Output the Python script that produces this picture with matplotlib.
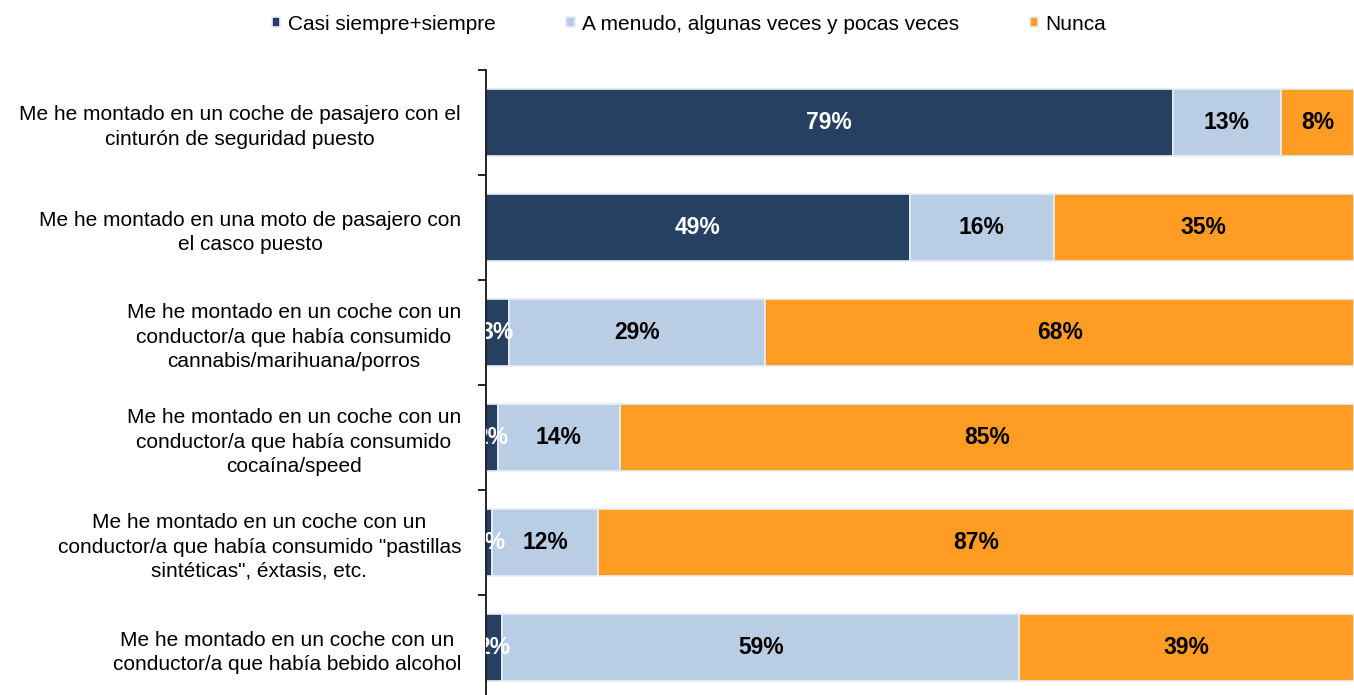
import matplotlib.pyplot as plt
import numpy as np

plt.rcParams['font.family'] = ['Liberation Sans', 'DejaVu Sans']

categories = [
    "Me he montado en un coche de pasajero con el\ncinturón de seguridad puesto",
    "Me he montado en una moto de pasajero con\nel casco puesto",
    "Me he montado en un coche con un\nconductor/a que había consumido\ncannabis/marihuana/porros",
    "Me he montado en un coche con un\nconductor/a que había consumido\ncocaína/speed",
    "Me he montado en un coche con un\nconductor/a que había consumido \"pastillas\nsintéticas\", éxtasis, etc.",
    "Me he montado en un coche con un\nconductor/a que había bebido alcohol",
]
series = ["Casi siempre+siempre", "A menudo, algunas veces y pocas veces", "Nunca"]

siempre = [79.1, 48.8, 2.6, 1.4, 0.7, 1.9]
a_menudo = [12.5, 16.6, 29.6, 14.0, 12.2, 59.5]
nunca = [8.4, 34.6, 67.8, 84.6, 87.1, 38.6]

lab_siempre = ["79%", "49%", "3%", "2%", "1%", "2%"]
lab_menudo = ["13%", "16%", "29%", "14%", "12%", "59%"]
lab_nunca = ["8%", "35%", "68%", "85%", "87%", "39%"]

colors = ["#254061", "#B9CDE5", "#FF9C24"]
text_colors = ["white", "black", "black"]

fig = plt.figure(figsize=(13.54, 6.95), dpi=100)
ax = fig.add_axes([486 / 1354, -5 / 695, 868 / 1354, 630 / 695])

y = np.arange(len(categories))
left = np.zeros(len(categories))
for vals, labs, name, c, tc in zip([siempre, a_menudo, nunca],
                                   [lab_siempre, lab_menudo, lab_nunca],
                                   series, colors, text_colors):
    vals = np.array(vals)
    ax.barh(y, vals, left=left, height=0.64, color=c, edgecolor="#E8EEF6",
            linewidth=1.2, label=name)
    for yi, l, v, s in zip(y, left, vals, labs):
        ax.text(l + v / 2, yi, s, ha="center", va="center", color=tc,
                fontsize=16.5, fontweight="bold", clip_on=True)
    left = left + vals

ax.set_xlim(0, 100)
ax.set_ylim(len(categories) - 0.5, -0.5)
ax.set_xticks([])
ax.set_yticks(y)
ax.set_yticklabels(categories, fontsize=15, multialignment="center",
                   linespacing=1.35)
ax.tick_params(axis="y", which="major", length=0, pad=18)
ax.set_yticks(np.arange(-0.5, len(categories)), minor=True)
ax.tick_params(axis="y", which="minor", length=6, width=1.2, direction="out")
for s in ["top", "right", "bottom"]:
    ax.spines[s].set_visible(False)
ax.spines["left"].set_linewidth(1.2)

fig.legend(loc="upper center", bbox_to_anchor=(0.509, 1.006), ncol=3, frameon=False,
           fontsize=15, handlelength=0.4, handleheight=0.4, handletextpad=0.35,
           columnspacing=3.4)

fig.savefig("out.png", dpi=100)
